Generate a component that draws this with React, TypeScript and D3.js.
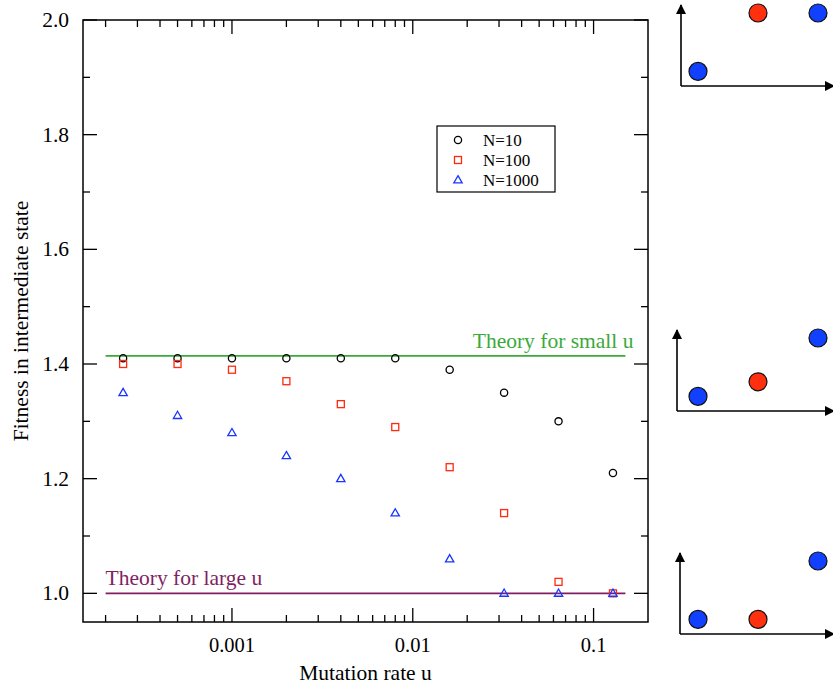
import React from "react";
import * as d3 from "d3";

const W = 833;
const H = 688;

const mutationRates = [0.00025, 0.0005, 0.001, 0.002, 0.004, 0.008, 0.016, 0.032, 0.064, 0.128];
const fitnessN10 = [1.41, 1.41, 1.41, 1.41, 1.41, 1.41, 1.39, 1.35, 1.30, 1.21];
const fitnessN100 = [1.40, 1.40, 1.39, 1.37, 1.33, 1.29, 1.22, 1.14, 1.02, 1.00];
const fitnessN1000 = [1.35, 1.31, 1.28, 1.24, 1.20, 1.14, 1.06, 1.00, 1.00, 1.00];
const seriesNames = ["N=10", "N=100", "N=1000"];

const theoryRange = [0.0002, 0.15];
const theorySmallU = Math.SQRT2;
const theoryLargeU = 1.0;

const xTickLabels = ["0.001", "0.01", "0.1"];
const yTickLabels = ["1.0", "1.2", "1.4", "1.6", "1.8", "2.0"];

// schematic panels: circle levels (0..1 relative height) for 3 points
const panelColors = ["blue", "red", "blue"];
const panelLevels = [
  [0.2, 1.0, 1.0],
  [0.2, 0.4, 1.0],
  [0.2, 0.2, 1.0],
];

const COL_BLACK = "#000";
const COL_RED = "#ff2a10";
const COL_BLUE = "#1a35ff";
const COL_GREEN = "#3aaa3a";
const COL_PURPLE = "#801f62";
const FILL_BLUE = "#1140ff";
const FILL_RED = "#ff3010";

export default function App() {
  const left = 83, right = 648, top = 20, bottom = 622;
  const x = d3.scaleLog().domain([1.5e-4, 0.2]).range([left, right]);
  const y = d3.scaleLinear().domain([0.95, 2.0]).range([bottom, top]);
  const font = "'Liberation Serif', 'Times New Roman', serif";

  const majorX = [0.001, 0.01, 0.1];
  const minorX: number[] = [];
  for (let e = -4; e <= -1; e++) {
    for (let k = 1; k <= 9; k++) {
      const v = k * Math.pow(10, e);
      if (v > 1.5e-4 && v < 0.2 && !majorX.some((m) => Math.abs(m - v) < 1e-12)) minorX.push(v);
    }
  }
  const majorY = yTickLabels.map((s) => +s);
  const minorY = d3.range(1.1, 2.0, 0.2);

  const series = [
    { name: seriesNames[0], vals: fitnessN10, color: COL_BLACK, shape: "circle" },
    { name: seriesNames[1], vals: fitnessN100, color: COL_RED, shape: "square" },
    { name: seriesNames[2], vals: fitnessN1000, color: COL_BLUE, shape: "triangle" },
  ];

  const marker = (shape: string, cx: number, cy: number, color: string, key: any) => {
    if (shape === "circle")
      return <circle key={key} cx={cx} cy={cy} r={3.6} fill="none" stroke={color} strokeWidth={1.3} />;
    if (shape === "square")
      return <rect key={key} x={cx - 3.5} y={cy - 3.5} width={7} height={7} fill="none" stroke={color} strokeWidth={1.3} />;
    const p = d3.symbol().type(d3.symbolTriangle).size(30)();
    return <path key={key} d={p as string} transform={`translate(${cx},${cy + 0.5})`} fill="none" stroke={color} strokeWidth={1.3} />;
  };

  const line = d3.line<number>().x((d) => x(d)).y(() => 0);

  // schematic panels geometry
  const panels = [
    { ax: 681, ay: 86, topY: 5 },
    { ax: 677, ay: 411, topY: 330 },
    { ax: 680, ay: 634, topY: 553 },
  ];
  const panelX = d3.scalePoint<number>().domain([0, 1, 2]).range([698, 818]);

  return (
    <svg width={W} height={H} style={{ position: "absolute", left: 0, top: 0, background: "#fff" }} fontFamily={font}>
      <defs>
        <marker id="arr" viewBox="0 0 10 10" refX="9" refY="5" markerWidth="10" markerHeight="10" markerUnits="userSpaceOnUse" orient="auto">
          <path d="M0,0 L10,5 L0,10 z" fill="#000" />
        </marker>
      </defs>

      {/* frame */}
      <rect x={left} y={top} width={right - left} height={bottom - top} fill="none" stroke="#000" strokeWidth={1.5} />

      {/* x ticks */}
      {majorX.map((v, i) => (
        <g key={"mx" + i}>
          <line x1={x(v)} x2={x(v)} y1={bottom} y2={bottom - 14} stroke="#000" strokeWidth={1.3} />
          <line x1={x(v)} x2={x(v)} y1={top} y2={top + 14} stroke="#000" strokeWidth={1.3} />
          <text x={x(v)} y={652} textAnchor="middle" fontSize={20.5}>{xTickLabels[i]}</text>
        </g>
      ))}
      {minorX.map((v, i) => (
        <g key={"nx" + i}>
          <line x1={x(v)} x2={x(v)} y1={bottom} y2={bottom - 7} stroke="#000" strokeWidth={1.3} />
          <line x1={x(v)} x2={x(v)} y1={top} y2={top + 7} stroke="#000" strokeWidth={1.3} />
        </g>
      ))}

      {/* y ticks */}
      {majorY.map((v, i) => (
        <g key={"my" + i}>
          <line x1={left} x2={left + 14} y1={y(v)} y2={y(v)} stroke="#000" strokeWidth={1.3} />
          <line x1={right} x2={right - 14} y1={y(v)} y2={y(v)} stroke="#000" strokeWidth={1.3} />
          <text x={69} y={y(v)} textAnchor="end" dominantBaseline="central" fontSize={21.5}>{yTickLabels[i]}</text>
        </g>
      ))}
      {minorY.map((v, i) => (
        <g key={"ny" + i}>
          <line x1={left} x2={left + 7} y1={y(v)} y2={y(v)} stroke="#000" strokeWidth={1.3} />
          <line x1={right} x2={right - 7} y1={y(v)} y2={y(v)} stroke="#000" strokeWidth={1.3} />
        </g>
      ))}

      {/* axis labels */}
      <text x={(left + right) / 2} y={680} textAnchor="middle" fontSize={21.5}>Mutation rate u</text>
      <text transform={`translate(21,${(top + bottom) / 2}) rotate(-90)`} textAnchor="middle" dominantBaseline="central" fontSize={21.5}>
        Fitness in intermediate state
      </text>

      {/* theory lines */}
      <path d={line(theoryRange) as string} transform={`translate(0,${y(theorySmallU)})`} stroke={COL_GREEN} strokeWidth={1.6} fill="none" />
      <text x={x(theoryRange[1]) + 8} y={y(theorySmallU) - 8} textAnchor="end" fontSize={21.5} fill={COL_GREEN}>Theory for small u</text>
      <path d={line(theoryRange) as string} transform={`translate(0,${y(theoryLargeU)})`} stroke={COL_PURPLE} strokeWidth={1.6} fill="none" />
      <text x={x(theoryRange[0])} y={y(theoryLargeU) - 8} textAnchor="start" fontSize={21.5} fill={COL_PURPLE}>Theory for large u</text>

      {/* data */}
      {series.map((s, si) => (
        <g key={"s" + si}>
          {s.vals.map((v, i) => marker(s.shape, x(mutationRates[i]), y(v), s.color, i))}
        </g>
      ))}

      {/* legend */}
      <rect x={437} y={126} width={118} height={66} fill="#fff" stroke="#000" strokeWidth={1.2} />
      {series.map((s, i) => (
        <g key={"l" + i}>
          {marker(s.shape, 458, 140 + i * 20, s.color, "lm" + i)}
          <text x={483} y={140 + i * 20} dominantBaseline="central" fontSize={17}>{s.name}</text>
        </g>
      ))}

      {/* schematic panels */}
      {panels.map((p, pi) => {
        const py = d3.scaleLinear().domain([0, 1]).range([p.ay, p.topY + 8]);
        return (
          <g key={"p" + pi}>
            <line x1={p.ax} y1={p.ay} x2={p.ax} y2={p.topY} stroke="#000" strokeWidth={1.6} markerEnd="url(#arr)" />
            <line x1={p.ax} y1={p.ay} x2={W + 1} y2={p.ay} stroke="#000" strokeWidth={1.6} markerEnd="url(#arr)" />
            {panelLevels[pi].map((lv, ci) => (
              <circle key={ci} cx={panelX(ci)} cy={py(lv)} r={9}
                fill={panelColors[ci] === "red" ? FILL_RED : FILL_BLUE} stroke="#111" strokeWidth={1.2} />
            ))}
          </g>
        );
      })}
    </svg>
  );
}
